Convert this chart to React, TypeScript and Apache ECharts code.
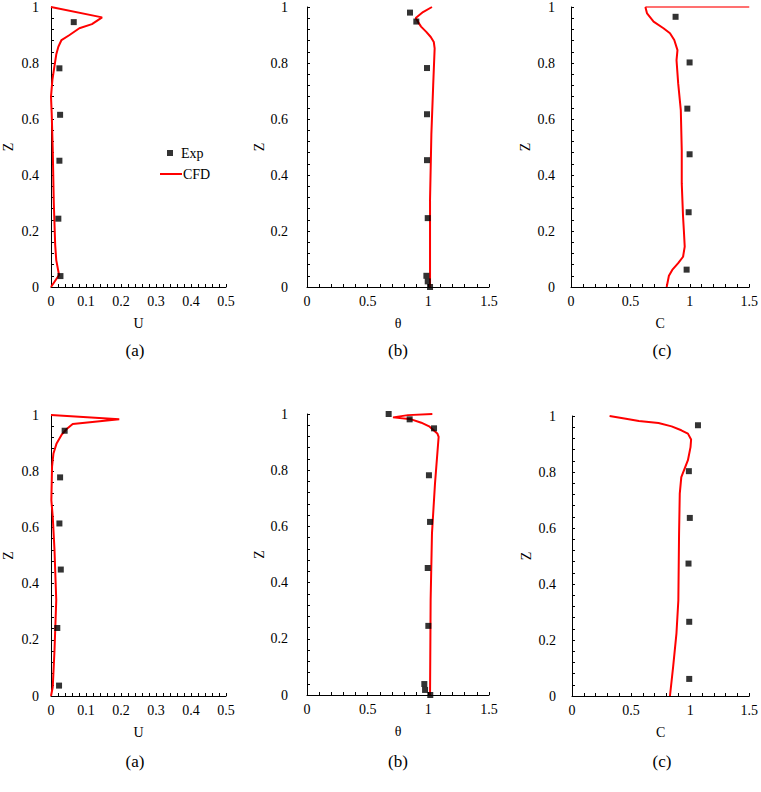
import React, { useEffect, useRef } from "react";
import * as echarts from "echarts";

// ---- data ----
// Row 1
const expA1: number[][] = [[0.065, 0.946], [0.024, 0.781], [0.026, 0.615], [0.024, 0.451], [0.021, 0.244], [0.027, 0.039]];
const cfdA1: number[][] = [[0, 0], [0.023, 0.043], [0.015, 0.096], [0.012, 0.15], [0.008, 0.3], [0.005, 0.49], [0.002, 0.62], [0, 0.68], [0.004, 0.74], [0.01, 0.79], [0.015, 0.83], [0.021, 0.858], [0.03, 0.882], [0.053, 0.9], [0.081, 0.924], [0.117, 0.939], [0.146, 0.963], [0, 1]];
const expB1: number[][] = [[0.849, 0.98], [0.901, 0.948], [0.989, 0.782], [0.989, 0.617], [0.989, 0.453], [0.995, 0.246], [0.984, 0.04], [0.995, 0.02], [1.014, 0]];
const cfdB1: number[][] = [[1.014, 0], [1.014, 0.31], [1.025, 0.545], [1.04, 0.72], [1.052, 0.852], [1.045, 0.875], [1.02, 0.893], [0.983, 0.911], [0.94, 0.93], [0.915, 0.947], [0.896, 0.961], [0.956, 0.982], [1.03, 1.0]];
const expC1: number[][] = [[0.88, 0.965], [0.998, 0.802], [0.979, 0.637], [0.998, 0.474], [0.99, 0.267], [0.973, 0.062]];
const cfdC1: number[][] = [[0.805, 0], [0.824, 0.04], [0.852, 0.061], [0.902, 0.085], [0.943, 0.108], [0.957, 0.144], [0.95, 0.2], [0.943, 0.251], [0.932, 0.37], [0.932, 0.489], [0.924, 0.632], [0.902, 0.727], [0.888, 0.81], [0.896, 0.846], [0.869, 0.882], [0.833, 0.906], [0.778, 0.924], [0.695, 0.948], [0.64, 0.977], [0.626, 1.0]];
const cfdC1Top: number[][] = [[0.626, 1.0], [1.5, 1.0]];
// Row 2
const expA2: number[][] = [[0.039, 0.944], [0.026, 0.778], [0.024, 0.614], [0.028, 0.45], [0.018, 0.242], [0.023, 0.037]];
const cfdA2: number[][] = [[0, 0], [0.005, 0.032], [0.01, 0.163], [0.015, 0.341], [0.01, 0.519], [0.005, 0.638], [0.001, 0.697], [0.003, 0.816], [0.007, 0.863], [0.016, 0.899], [0.03, 0.929], [0.044, 0.949], [0.062, 0.968], [0.195, 0.985], [0, 1]];
const expB2: number[][] = [[0.673, 1.0], [0.846, 0.981], [1.047, 0.949], [1.005, 0.782], [1.014, 0.616], [0.995, 0.452], [1.0, 0.246], [0.967, 0.039], [0.973, 0.018], [1.016, 0]];
const cfdB2: number[][] = [[1.014, 0], [1.019, 0.338], [1.03, 0.575], [1.055, 0.753], [1.085, 0.919], [1.074, 0.931], [1.011, 0.955], [0.942, 0.969], [0.86, 0.981], [0.709, 0.988], [0.832, 0.996], [1.033, 1.0]];
const expC2: number[][] = [[1.066, 0.967], [0.989, 0.803], [0.997, 0.636], [0.986, 0.473], [0.992, 0.265], [0.992, 0.061]];
const cfdC2: number[][] = [[0.829, 0], [0.856, 0.105], [0.884, 0.224], [0.9, 0.342], [0.906, 0.58], [0.912, 0.723], [0.925, 0.782], [0.953, 0.812], [0.981, 0.842], [1.003, 0.889], [1.008, 0.916], [0.981, 0.937], [0.925, 0.949], [0.843, 0.963], [0.732, 0.975], [0.566, 0.982], [0.456, 0.99], [0.318, 1.0]];

const xNames = ["U", "θ", "C", "U", "θ", "C"];
const xMaxes = [0.5, 1.5, 1.5, 0.5, 1.5, 1.5];
const xIntervals = [0.1, 0.5, 0.5, 0.1, 0.5, 0.5];
const panelLabels = ["(a)", "(b)", "(c)", "(a)", "(b)", "(c)"];
const yName = "Z";

const expSets = [expA1, expB1, expC1, expA2, expB2, expC2];
const cfdSets = [cfdA1, cfdB1, cfdC1, cfdA2, cfdB2, cfdC2];

const FONT = "Liberation Serif";

const grids = [
  { left: 44, top: 7, width: 182, height: 280 },
  { left: 307, top: 5, width: 182, height: 282 },
  { left: 571, top: 7, width: 181, height: 280 },
  { left: 44, top: 415, width: 182, height: 281 },
  { left: 307, top: 414, width: 182, height: 281 },
  { left: 572, top: 416, width: 181, height: 280 },
];
const yLabelMargins = [12, 19, 16, 12, 19, 16];
const yNameGaps = [36, 38, 39, 36, 38, 39];
const labelPos = [
  [135, 350], [398, 350], [662, 350],
  [135, 761], [398, 761], [662, 761],
];

export default function App() {
  const ref = useRef<HTMLDivElement>(null);
  useEffect(() => {
    if (!ref.current) return;
    const chart = echarts.init(ref.current, undefined, { renderer: "svg" });
    const axisCommon = {
      axisLine: { show: true, lineStyle: { color: "#000", width: 1 } },
      axisTick: { show: true, inside: true, length: 3, lineStyle: { color: "#000" } },
      minorTick: { show: true, splitNumber: 5, length: 3, lineStyle: { color: "#000" } },
      splitLine: { show: false },
      axisLabel: { color: "#000", fontFamily: FONT, fontSize: 14 },
      nameTextStyle: { color: "#000", fontFamily: FONT, fontSize: 14 },
    };
    const xAxis = grids.map((_, i) => ({
      ...axisCommon,
      type: "value",
      gridIndex: i,
      min: 0,
      max: xMaxes[i],
      interval: xIntervals[i],
      name: xNames[i],
      nameLocation: "middle",
      nameGap: 29,
      axisLabel: { ...axisCommon.axisLabel, margin: 7 },
    }));
    const yAxis = grids.map((_, i) => ({
      ...axisCommon,
      type: "value",
      gridIndex: i,
      min: 0,
      max: 1,
      interval: 0.2,
      name: yName,
      nameLocation: "middle",
      nameRotate: 90,
      nameGap: yNameGaps[i],
      axisLabel: { ...axisCommon.axisLabel, margin: yLabelMargins[i] },
    }));
    const series: any[] = [];
    grids.forEach((_, i) => {
      series.push({
        type: "line",
        name: "CFD",
        xAxisIndex: i,
        yAxisIndex: i,
        data: cfdSets[i],
        symbol: "none",
        lineStyle: { color: "#ff0000", width: 2 },
        itemStyle: { color: "#ff0000" },
        z: 2,
      });
      series.push({
        type: "scatter",
        name: "Exp",
        xAxisIndex: i,
        yAxisIndex: i,
        data: expSets[i],
        symbol: "rect",
        symbolSize: 6,
        itemStyle: { color: "#000" },
        z: 3,
      });
    });
    series.push({
      type: "line",
      name: "CFD top",
      xAxisIndex: 2,
      yAxisIndex: 2,
      data: cfdC1Top,
      symbol: "none",
      clip: false,
      lineStyle: { color: "#ff7070", width: 2 },
      z: 1,
    });
    chart.setOption({
      animation: false,
      backgroundColor: "#fff",
      grid: grids.map((g) => ({ ...g, containLabel: false })),
      xAxis,
      yAxis,
      series,
      legend: [
        {
          data: [{ name: "Exp", icon: "rect" }],
          left: 162,
          top: 141,
          itemWidth: 6,
          itemHeight: 6,
          selectedMode: false,
          textStyle: { color: "#000", fontFamily: FONT, fontSize: 14, padding: [0, 0, 0, 3] },
        },
        {
          data: [{ name: "CFD", icon: "rect" }],
          left: 155,
          top: 162,
          itemWidth: 22,
          itemHeight: 2,
          selectedMode: false,
          textStyle: { color: "#000", fontFamily: FONT, fontSize: 14, padding: [0, 0, 0, -4] },
        },
      ],
      graphic: panelLabels.map((t, i) => ({
        type: "text",
        x: labelPos[i][0],
        y: labelPos[i][1],
        style: {
          text: t,
          fill: "#000",
          font: `17px "${FONT}"`,
          textAlign: "center",
          textVerticalAlign: "middle",
        },
      })),
    });
    return () => chart.dispose();
  }, []);
  return (
    <div
      ref={ref}
      style={{ position: "absolute", left: 0, top: 0, width: 761, height: 792, background: "#fff" }}
    />
  );
}
